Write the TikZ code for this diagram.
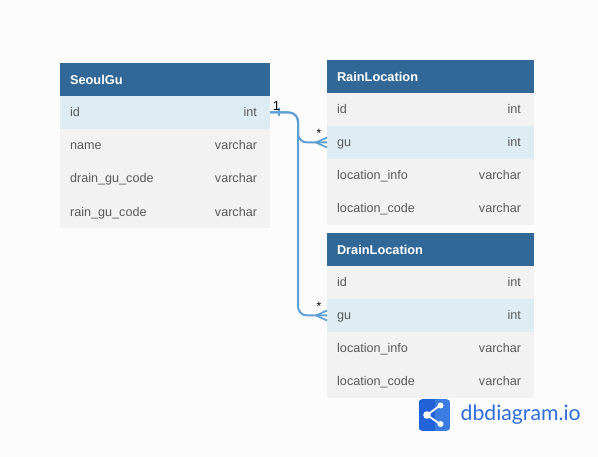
\documentclass[tikz,border=0pt]{standalone}
\usepackage{fontspec}
\setmainfont{Liberation Sans}
\newfontfamily\logofont{Lato}
\definecolor{hdr}{HTML}{316897}
\definecolor{rowa}{HTML}{F2F2F2}
\definecolor{rowb}{HTML}{DEECF4}
\definecolor{bgc}{HTML}{FCFCFC}
\definecolor{txt}{HTML}{595959}
\definecolor{lnk}{HTML}{5F9FD6}
\definecolor{logoa}{HTML}{2162D8}
\definecolor{logob}{HTML}{3A7CE2}
\definecolor{logot}{HTML}{2F6EDB}
\newcommand{\fs}{\fontsize{12.6}{15}\selectfont}
\tikzset{
  x=1pt,y=-1pt,
  tbox/.style={inner sep=0pt,outer sep=0pt,minimum height=33pt,anchor=north west},
  header/.style={tbox,fill=hdr,text=white,font=\fontsize{12.8}{15}\selectfont\bfseries,align=left,text width=#1-20pt,minimum width=#1,inner xsep=10pt,text height=12pt,text depth=2.7pt},
  cell/.style={tbox,fill=rowa,minimum width=#1},
  hcell/.style={tbox,fill=rowb,minimum width=#1},
  fname/.style={text=txt,font=\fs,inner sep=0pt,anchor=west,text height=9pt,text depth=2.7pt,yshift=-1pt},
  ftype/.style={text=txt,font=\fs,inner sep=0pt,anchor=east,text height=9pt,text depth=2.7pt,yshift=-1pt},
  link/.style={draw=lnk,line width=2pt,rounded corners=9pt},
  foot/.style={draw=lnk,line width=1.7pt},
  mark1/.style={font=\fontsize{13}{15}\selectfont,text=black,inner sep=0pt},
  markm/.style={font=\fontsize{12}{14}\selectfont,text=black,inner sep=0pt}
}
\newcommand{\frow}[6]{%
  \node[#2] (#1) at (#3,#4) {};
  \node[fname] (#1n) at ([xshift=10pt]#1.west) {#5};
  \node[ftype] (#1t) at ([xshift=-12.8pt]#1.east) {#6};
}
\begin{document}
\begin{tikzpicture}
\useasboundingbox (0,0) rectangle (598,457);
\fill[bgc] (0,0) rectangle (598,457);
% SeoulGu
\node[header=210pt] (sg) at (60,63) {SeoulGu};
\frow{sga}{hcell=210pt}{60}{96}{id}{int}
\frow{sgb}{cell=210pt}{60}{129}{name}{varchar}
\frow{sgc}{cell=210pt}{60}{162}{drain\_gu\_code}{varchar}
\frow{sgd}{cell=210pt}{60}{195.5}{rain\_gu\_code}{varchar}
% RainLocation
\node[header=207pt] (rl) at (327,60) {RainLocation};
\frow{rla}{cell=207pt}{327}{93}{id}{int}
\frow{rlb}{hcell=207pt}{327}{126}{gu}{int}
\frow{rlc}{cell=207pt}{327}{159}{location\_info}{varchar}
\frow{rld}{cell=207pt}{327}{192}{location\_code}{varchar}
% DrainLocation
\node[header=207pt] (dl) at (327,233) {DrainLocation};
\frow{dla}{cell=207pt}{327}{266}{id}{int}
\frow{dlb}{hcell=207pt}{327}{299}{gu}{int}
\frow{dlc}{cell=207pt}{327}{332}{location\_info}{varchar}
\frow{dld}{cell=207pt}{327}{365}{location\_code}{varchar}
% connectors
\draw[link] (sga.east) -- ++(28,0) |- (rlb.west);
\draw[link] (sga.east) -- ++(28,0) |- (dlb.west);
% one tick
\draw[foot] ([xshift=9pt,yshift=4pt]sga.east) -- ([xshift=9pt,yshift=-4pt]sga.east);
% crow feet
\draw[foot] ([xshift=-11pt]rlb.west) -- ([yshift=-5pt]rlb.west);
\draw[foot] ([xshift=-11pt]rlb.west) -- ([yshift=5pt]rlb.west);
\draw[foot] ([xshift=-11pt]dlb.west) -- ([yshift=-5pt]dlb.west);
\draw[foot] ([xshift=-11pt]dlb.west) -- ([yshift=5pt]dlb.west);
\node[mark1] (m1) at (276.5,106) {1};
\node[markm] (m2) at (319,133) {*};
\node[markm] (m3) at (319,306) {*};
% logo
\begin{scope}
\clip[rounded corners=4.5pt] (418.5,399) rectangle (450.5,431);
\fill[logob] (418.5,399) rectangle (450.5,431);
\fill[logoa] (418.5,399) rectangle (434.5,431);
\end{scope}
\draw[white,line width=1.8pt] (440,405.5) -- (427,415) -- (440,424);
\fill[white] (427,415) circle (3.8);
\fill[white] (440.5,405.5) circle (3);
\fill[white] (440.5,424) circle (3);
\node[anchor=west,inner sep=0pt,text=logot,font=\logofont\fontsize{21.2}{26}\selectfont] (logotext) at (460.5,415) {dbdiagram.io};
\end{tikzpicture}
\end{document}
